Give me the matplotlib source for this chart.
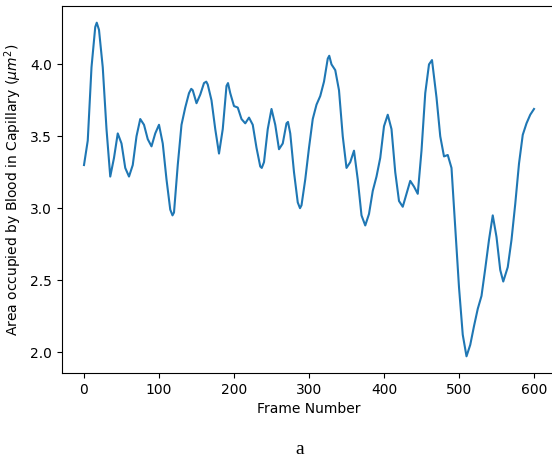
import matplotlib
matplotlib.use("Agg")
import matplotlib.pyplot as plt

# frame numbers and blood area
frames = [0, 5, 10, 15, 17, 20, 25, 30, 35, 40, 45, 50, 55, 60, 65, 70, 75, 80, 85, 90,
          95, 100, 105, 110, 115, 118, 120, 125, 130, 135, 140, 143, 145, 150, 155, 160,
          163, 165, 170, 175, 180, 185, 190, 192, 195, 200, 205, 210, 215, 220, 225, 230,
          235, 237, 240, 245, 250, 255, 260, 265, 270, 272, 275, 280, 285, 288, 290, 295,
          300, 305, 310, 315, 320, 325, 327, 330, 335, 340, 345, 350, 355, 360, 365, 370,
          375, 380, 385, 390, 395, 400, 405, 410, 415, 420, 425, 430, 435, 440, 445, 450,
          455, 460, 464, 470, 475, 480, 485, 490, 495, 500, 505, 510, 515, 520, 525, 530,
          535, 540, 545, 550, 555, 559, 565, 570, 575, 580, 585, 590, 595, 600]
area = [3.30, 3.47, 3.98, 4.26, 4.29, 4.24, 3.98, 3.55, 3.22, 3.35, 3.52, 3.45, 3.28, 3.22,
        3.30, 3.50, 3.62, 3.58, 3.48, 3.43, 3.52, 3.58, 3.45, 3.20, 2.99, 2.95, 2.97, 3.30,
        3.58, 3.70, 3.80, 3.83, 3.82, 3.73, 3.79, 3.87, 3.88, 3.86, 3.75, 3.55, 3.38, 3.55,
        3.85, 3.87, 3.80, 3.71, 3.70, 3.62, 3.59, 3.63, 3.58, 3.42, 3.29, 3.28, 3.32, 3.55,
        3.69, 3.58, 3.41, 3.45, 3.59, 3.60, 3.52, 3.25, 3.04, 3.00, 3.02, 3.20, 3.42, 3.62,
        3.72, 3.78, 3.88, 4.04, 4.06, 4.00, 3.96, 3.82, 3.50, 3.28, 3.32, 3.40, 3.20, 2.95,
        2.88, 2.96, 3.12, 3.22, 3.35, 3.57, 3.65, 3.55, 3.25, 3.05, 3.01, 3.10, 3.19, 3.15,
        3.10, 3.40, 3.80, 4.00, 4.03, 3.77, 3.50, 3.36, 3.37, 3.28, 2.87, 2.45, 2.12, 1.97,
        2.05, 2.18, 2.30, 2.39, 2.58, 2.78, 2.95, 2.80, 2.57, 2.49, 2.59, 2.78, 3.03, 3.31,
        3.51, 3.59, 3.65, 3.69]

fig = plt.figure(figsize=(5.52, 4.58), dpi=100)
ax = fig.add_axes([61.5 / 552, 85 / 458, 495 / 552, 367 / 458])

ax.plot(frames, area, color="#1f77b4", linewidth=1.5)
ax.set_xlim(-30, 630)
ax.set_ylim(1.854, 4.406)
ax.set_xticks([0, 100, 200, 300, 400, 500, 600])
ax.set_yticks([2.0, 2.5, 3.0, 3.5, 4.0])
ax.set_xlabel("Frame Number")
ax.set_ylabel(r"Area occupied by Blood in Capillary ($\mu m^2$)")
# the reference is cut off before the right spine
ax.spines["right"].set_visible(False)

fig.text(300 / 552, 1 - 449 / 458, "a", ha="center", va="center",
         fontsize=14, family="Liberation Serif")

fig.savefig("out.png", dpi=100)
